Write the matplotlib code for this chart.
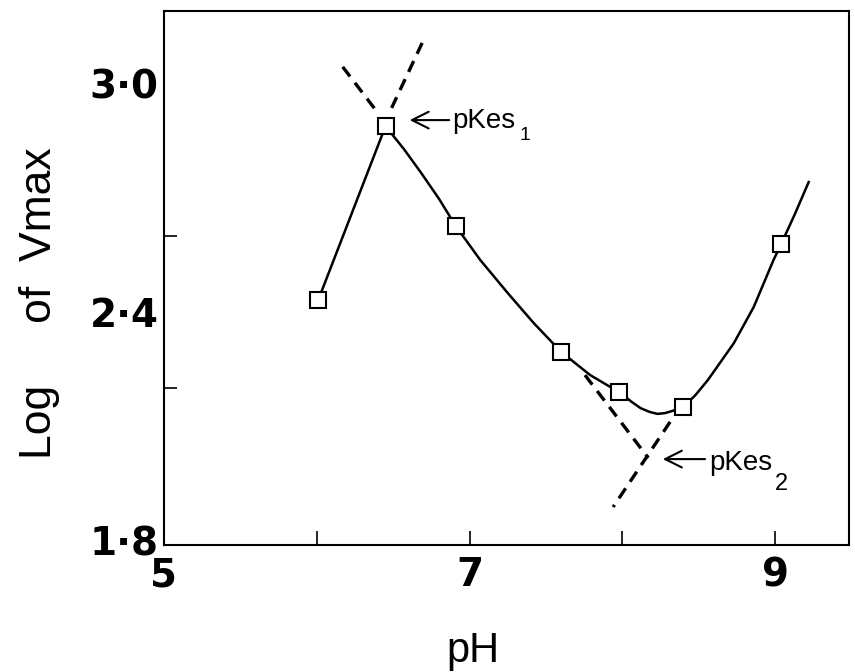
import matplotlib
matplotlib.use("Agg")
from matplotlib import pyplot as plt

# measured points (pH, log Vmax)
ph = [6.01, 6.45, 6.91, 7.60, 7.98, 8.40, 9.04]
logVmax = [2.432, 2.889, 2.626, 2.295, 2.189, 2.150, 2.579]

# hand drawn curve
curveX = [6.01, 6.45, 6.57, 6.68, 6.80, 6.91, 7.07, 7.25, 7.42, 7.60, 7.79, 7.98,
          8.06, 8.12, 8.18, 8.23, 8.28, 8.33, 8.40, 8.48, 8.56, 8.73, 8.86, 8.99, 9.04, 9.13, 9.22]
curveY = [2.432, 2.889, 2.829, 2.768, 2.698, 2.626, 2.537, 2.450, 2.371, 2.295, 2.234, 2.189,
          2.164, 2.147, 2.137, 2.132, 2.134, 2.140, 2.150, 2.182, 2.221, 2.318, 2.413, 2.537, 2.579, 2.658, 2.742]

# dashed tangents around pKes1 and pKes2
tan1aX, tan1aY = [6.17, 6.40], [3.045, 2.924]
tan1bX, tan1bY = [6.69, 6.49], [3.108, 2.937]
tan2aX, tan2aY = [7.756, 8.17], [2.234, 2.016]
tan2bX, tan2bY = [8.313, 7.94], [2.111, 1.887]

xTicks = [5, 7, 9]
xMinor = [6, 8]
yTicks = [1.8, 2.4, 3.0]
yTickLabels = ["1\u00b78", "2\u00b74", "3\u00b70"]
yMinor = [2.2, 2.6, 3.0]

sans = ["Liberation Sans", "DejaVu Sans"]

fig = plt.figure(figsize=(8.55, 6.72), dpi=100)
ax = fig.add_axes([0.1918, 0.189, 0.8012, 0.7946])

ax.plot(curveX, curveY, color="black", lw=1.8, zorder=2, solid_joinstyle="round")
dash = dict(color="black", lw=2.4, dashes=(3.6, 2.4), zorder=2)
ax.plot(tan1aX, tan1aY, **dash)
ax.plot(tan1bX, tan1bY, **dash)
ax.plot(tan2aX, tan2aY, **dash)
ax.plot(tan2bX, tan2bY, **dash)
ax.plot(ph, logVmax, ls="none", marker="s", ms=11.5, mfc="white",
        mec="black", mew=1.5, zorder=3)

ax.set_xlim(5, 9.484)
ax.set_ylim(1.787, 3.192)

ax.set_xticks(xTicks)
ax.set_xticklabels([str(t) for t in xTicks])
ax.set_xticks(xMinor, minor=True)
ax.set_yticks(yTicks)
ax.set_yticklabels(yTickLabels)
ax.set_yticks(yMinor, minor=True)

ax.tick_params(axis="x", which="both", direction="in", length=10, width=1.2)
ax.tick_params(axis="x", which="major", pad=8, labelsize=28)
ax.tick_params(axis="y", which="major", length=0, pad=4, labelsize=28)
ax.tick_params(axis="y", which="minor", direction="in", length=9, width=1.2)
for lab in ax.get_xticklabels() + ax.get_yticklabels():
    lab.set_fontweight("bold")
    lab.set_family("DejaVu Sans")

for sp in ax.spines.values():
    sp.set_linewidth(1.5)

# annotations
arrow = dict(arrowstyle="->", lw=1.5, color="black", mutation_scale=30)
ax.annotate("", xy=(6.59, 2.905), xytext=(6.885, 2.905), arrowprops=arrow)
ax.text(6.885, 2.884, "pKes", fontsize=20, family=sans, va="baseline", ha="left")
ax.text(7.33, 2.853, "1", fontsize=14, family=sans, va="baseline", ha="left")

ax.annotate("", xy=(8.247, 2.013), xytext=(8.56, 2.013), arrowprops=arrow)
ax.text(8.568, 1.984, "pKes", fontsize=20, family=sans, va="baseline", ha="left")
ax.text(9.0, 1.932, "2", fontsize=17, family=sans, va="baseline", ha="left")

fig.text(0.0462, 0.549, "Log     of  Vmax", rotation=90, fontsize=32,
         family=sans, ha="center", va="center")
fig.text(0.553, 0.0149, "pH", fontsize=30, family=sans, ha="center", va="baseline")

fig.savefig("out.png", dpi=100)
